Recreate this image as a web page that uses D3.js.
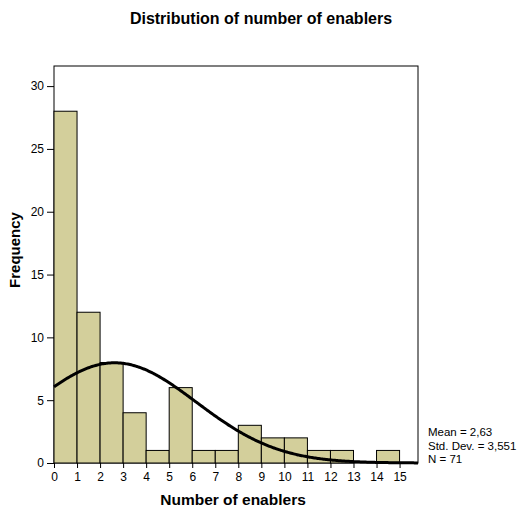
<!DOCTYPE html>
<html>
<head>
<meta charset="utf-8">
<script src="https://cdn.jsdelivr.net/npm/d3@7"></script>
<style>
  body { margin: 0; background: #fff; }
  text { font-family: "Liberation Sans", Arial, sans-serif; }
</style>
</head>
<body>
<div id="chart"></div>
<script>
// histogram bins (lower edge) and counts
const binStarts = [0, 1, 2, 3, 4, 5, 6, 7, 8, 9, 10, 11, 12, 13, 14];
const counts = [28, 12, 8, 4, 1, 6, 1, 1, 3, 2, 2, 1, 1, 0, 1];
const xTicks = [0, 1, 2, 3, 4, 5, 6, 7, 8, 9, 10, 11, 12, 13, 14, 15];
const yTicks = [0, 5, 10, 15, 20, 25, 30];
const stats = { mean: 2.63, sd: 3.551, n: 71 };
const statLabels = ['Mean = 2,63', 'Std. Dev. = 3,551', 'N = 71'];

const width = 520, height = 510;
const plotLeft = 54, plotRight = 418, plotTop = 66, plotBottom = 463;

const svg = d3.select('#chart').append('svg')
  .attr('width', width)
  .attr('height', height);

const x = d3.scaleLinear().domain([0, 15.8]).range([plotLeft, plotRight]);
const y = d3.scaleLinear().domain([0, 31.6]).range([plotBottom, plotTop]);

// frame
svg.append('rect')
  .attr('x', plotLeft).attr('y', plotTop)
  .attr('width', plotRight - plotLeft).attr('height', plotBottom - plotTop)
  .attr('fill', 'none').attr('stroke', '#000').attr('stroke-width', 1);

// bars
svg.selectAll('.bar')
  .data(binStarts.map((s, i) => ({ s, c: counts[i] })).filter(d => d.c > 0))
  .enter()
  .append('rect')
  .attr('class', 'bar')
  .attr('x', d => x(d.s))
  .attr('y', d => y(d.c))
  .attr('width', d => x(d.s + 1) - x(d.s))
  .attr('height', d => y(0) - y(d.c))
  .attr('fill', '#d3cf9b')
  .attr('stroke', '#000')
  .attr('stroke-width', 1);

// fitted normal curve
const pdf = v => stats.n / (stats.sd * Math.sqrt(2 * Math.PI)) *
  Math.exp(-0.5 * Math.pow((v - stats.mean) / stats.sd, 2));
const curvePts = d3.range(0, 15.8 + 0.001, 0.05).map(v => [v, pdf(v)]);
svg.append('path')
  .datum(curvePts)
  .attr('d', d3.line().x(d => x(d[0])).y(d => y(d[1])).curve(d3.curveBasis))
  .attr('fill', 'none')
  .attr('stroke', '#000')
  .attr('stroke-width', 3);

// axes
const yAxis = svg.append('g')
  .attr('transform', `translate(${plotLeft},0)`)
  .call(d3.axisLeft(y).tickValues(yTicks).tickSize(7).tickPadding(3));
const xAxis = svg.append('g')
  .attr('transform', `translate(0,${plotBottom})`)
  .call(d3.axisBottom(x).tickValues(xTicks).tickSize(5).tickPadding(4));

[yAxis, xAxis].forEach(g => {
  g.select('.domain').remove();
  g.selectAll('text')
    .style('font-size', '12px')
    .style('font-family', '"Liberation Sans", Arial, sans-serif')
    .attr('fill', '#000');
});

// titles
svg.append('text')
  .attr('x', 261).attr('y', 24)
  .attr('text-anchor', 'middle')
  .style('font-size', '16px').style('font-weight', 'bold')
  .text('Distribution of number of enablers');

svg.append('text')
  .attr('x', 233).attr('y', 505)
  .attr('text-anchor', 'middle')
  .style('font-size', '15.5px').style('font-weight', 'bold')
  .text('Number of enablers');

svg.append('text')
  .attr('transform', 'translate(20,250) rotate(-90)')
  .attr('text-anchor', 'middle')
  .style('font-size', '15px').style('font-weight', 'bold')
  .text('Frequency');

// stats text
svg.selectAll('.stat')
  .data(statLabels)
  .enter()
  .append('text')
  .attr('class', 'stat')
  .attr('x', 428)
  .attr('y', (d, i) => 436 + i * 13.5)
  .style('font-size', '11.5px')
  .text(d => d);
</script>
</body>
</html>
